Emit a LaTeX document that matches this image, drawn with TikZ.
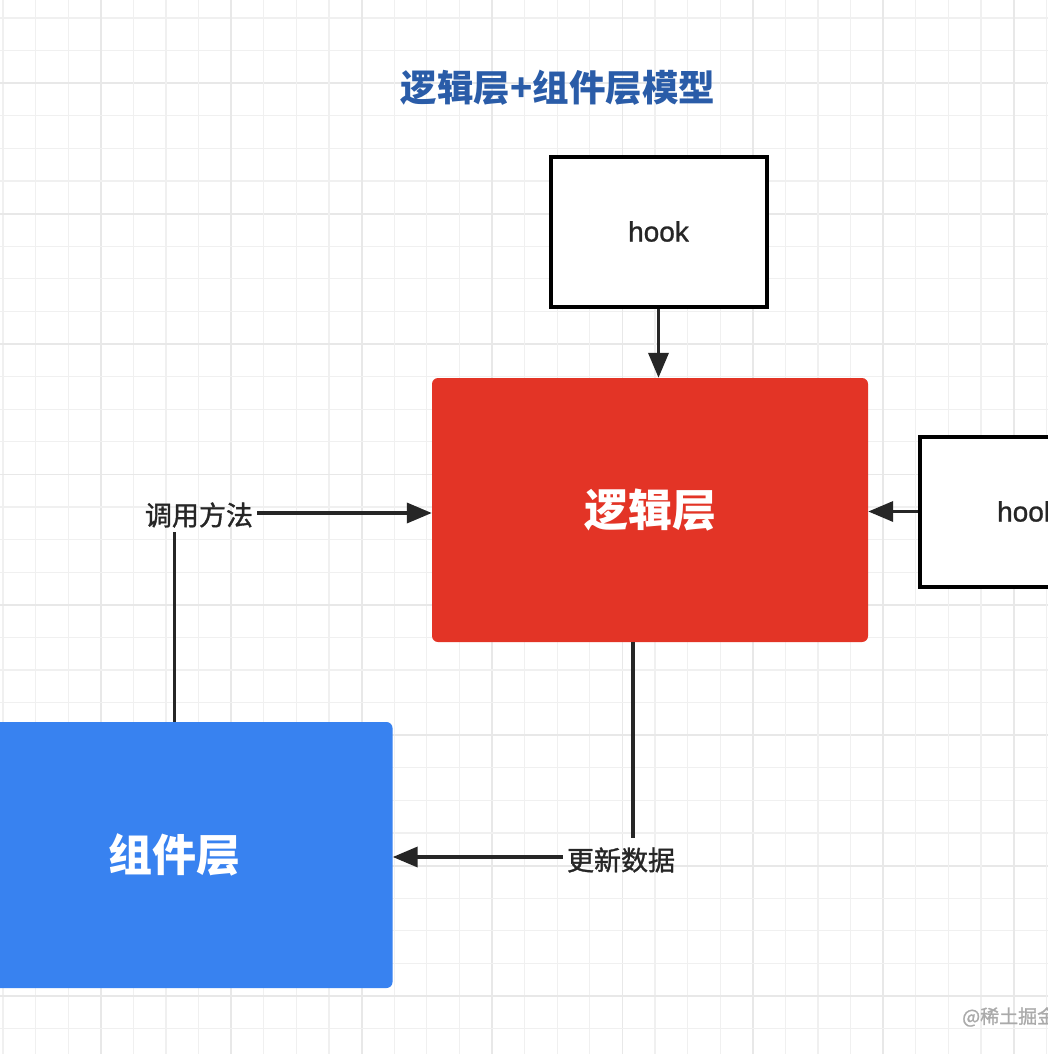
\documentclass[tikz,border=0pt]{standalone}
\usepackage{fontspec}
\setmainfont{Liberation Sans}
\newfontfamily\cjk{Noto Sans CJK SC}
\newfontfamily\cjkmed[FakeBold=1.2]{Noto Sans CJK SC}
\newfontfamily\hookfont[FakeBold=1]{Liberation Sans}
\usetikzlibrary{arrows.meta}
\definecolor{gridminor}{RGB}{240,240,240}
\definecolor{gridmajor}{RGB}{232,232,232}
\definecolor{titleblue}{RGB}{42,92,168}
\definecolor{redbox}{RGB}{227,52,38}
\definecolor{bluebox}{RGB}{56,130,240}
\definecolor{ink}{RGB}{38,38,38}
\definecolor{wm}{RGB}{170,170,170}
\tikzset{
  hookbox/.style={draw=black, line width=4pt, fill=white, minimum width=216pt, minimum height=150pt, inner sep=0pt, font=\hookfont\fontsize{28}{30}\selectfont, text=ink},
  layerbox/.style={rounded corners=6pt, minimum width=436pt, minimum height=264pt, inner sep=0pt, text=white, font=\cjk\bfseries\fontsize{44}{48}\selectfont},
  edgelabel/.style={inner sep=4pt, text=ink, font=\cjkmed\fontsize{27}{30}\selectfont},
  conn/.style={draw=ink, line width=3.6pt},
  arr/.style={conn, -{Triangle[length=25pt,width=20pt]}},
}
\begin{document}
\begin{tikzpicture}[x=1pt,y=-1pt]
\useasboundingbox (0,0) rectangle (1048,1054);
\fill[white] (0,0) rectangle (1048,1054);
% grid
\foreach \k in {0,...,32}{
  \pgfmathsetmacro{\xx}{3+\k*32.6}
  \pgfmathtruncatemacro{\mx}{mod(\k,4)}
  \ifnum\mx=3
    \draw[gridmajor, line width=1.8pt] (\xx,0) -- (\xx,1054);
  \else
    \draw[gridminor, line width=1.3pt] (\xx,0) -- (\xx,1054);
  \fi
  \pgfmathsetmacro{\yy}{18+\k*32.6}
  \pgfmathtruncatemacro{\my}{mod(\k,4)}
  \ifnum\my=2
    \draw[gridmajor, line width=1.8pt] (0,\yy) -- (1048,\yy);
  \else
    \draw[gridminor, line width=1.3pt] (0,\yy) -- (1048,\yy);
  \fi
}
% title
\node[text=titleblue, font=\cjk\bfseries\fontsize{36.5}{40}\selectfont] (title) at (558,88) {逻辑层+组件层模型};
% nodes
\node[hookbox] (hookA) at (658.5,231.5) {hook};
\node[hookbox] (hookB) at (1027.5,511.5) {hook};
\node[layerbox, fill=redbox] (logic) at (650,510) {逻辑层};
\node[layerbox, fill=bluebox, minimum height=266pt] (comp) at (174.5,855) {组件层};
\node[edgelabel] (call) at (199,515) {调用方法};
\node[edgelabel] (update) at (621,860) {更新数据};
\coordinate (logicout) at ([xshift=-17pt]logic.south);
\coordinate (updin) at (633,838);
% connectors
\draw[arr] (hookA.south) -- (hookA.south |- logic.north);
\draw[arr] (hookB.west) -- (hookB.west -| logic.east);
\draw[conn] (comp.north) -- (comp.north |- call.south);
\draw[arr] ([yshift=2pt]call.east) -- ([yshift=2pt]call.east -| logic.west);
\draw[conn] (logicout) -- (updin);
\draw[arr] ([yshift=3pt]update.west) -- ([yshift=3pt]update.west -| comp.east);
% watermark
\node[anchor=west, text=wm, inner sep=0pt, font=\cjkmed\fontsize{19}{22}\selectfont] (mark) at (962,1017) {@稀土掘金};
\end{tikzpicture}
\end{document}
